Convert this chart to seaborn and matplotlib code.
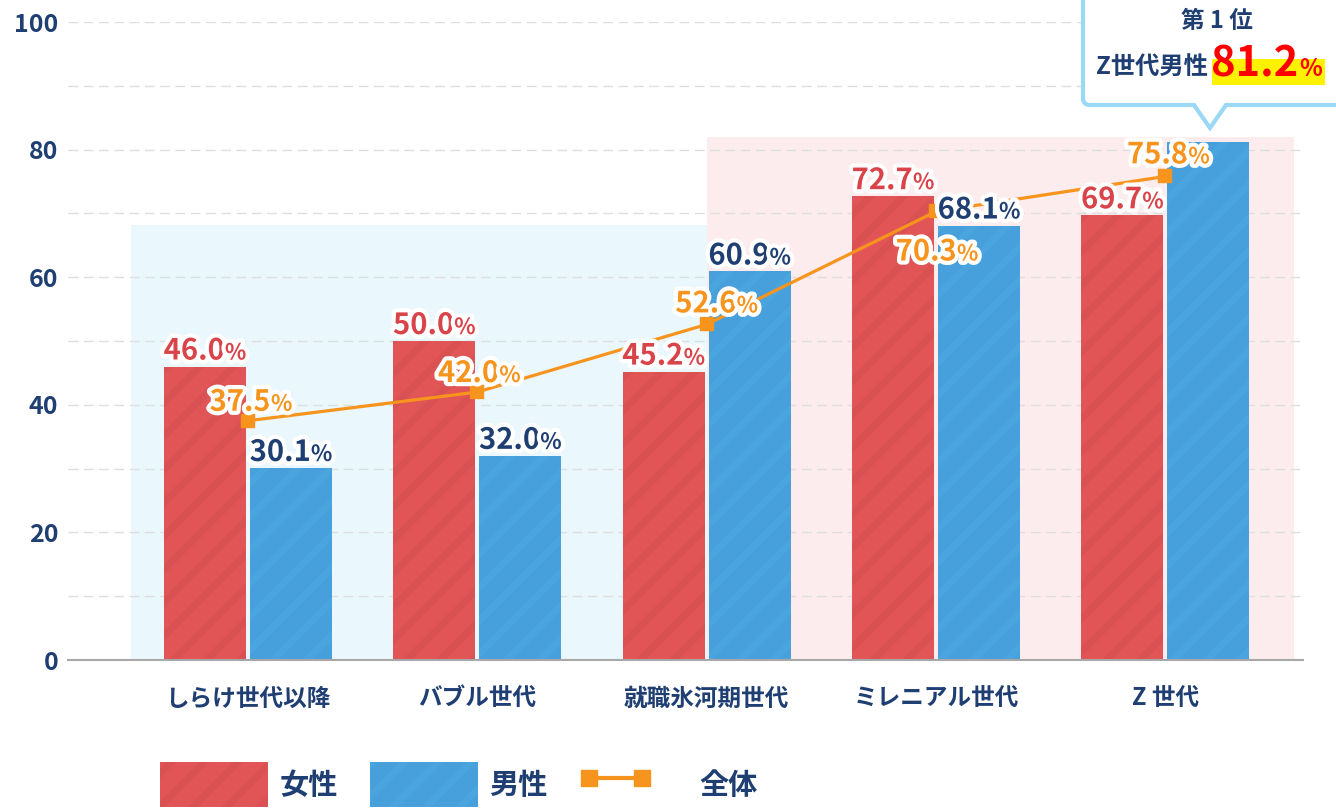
import matplotlib
matplotlib.use("Agg")
import matplotlib.pyplot as plt
import matplotlib.patheffects as pe
import matplotlib.transforms as mtransforms
from matplotlib.patches import Patch, Rectangle, FancyBboxPatch, Polygon
from matplotlib.lines import Line2D
from matplotlib.legend_handler import HandlerLine2D
import pandas as pd
import seaborn as sns

# data
generations = ["しらけ世代以降", "バブル世代", "就職氷河期世代", "ミレニアル世代", "Z 世代"]
female = [46.0, 50.0, 45.2, 72.7, 69.7]
male = [30.1, 32.0, 60.9, 68.1, 81.2]
overall = [37.5, 42.0, 52.6, 70.3, 75.8]
series_names = ["女性", "男性", "全体"]
y_ticks = [0, 20, 40, 60, 80, 100]
top_rank = "第 1 位"
top_group = "Z世代男性"
top_value = 81.2

RED = "#e15557"
RED_STRIPE = "#d95153"
BLUE = "#47a0db"
BLUE_STRIPE = "#4aa5de"
ORANGE = "#f7941d"
NAVY = "#1f3f73"
LABEL_RED = "#d9434a"
FONT = ["Noto Sans CJK JP", "DejaVu Sans"]

W, H = 1336, 809


def main():
    sns.set_style("white")
    plt.rcParams["font.family"] = FONT
    plt.rcParams["hatch.linewidth"] = 5

    fig = plt.figure(figsize=(W / 100, H / 100), dpi=100)
    ax = fig.add_axes([68 / W, 149 / H, (1303 - 68) / W, 638 / H])

    df = pd.DataFrame({
        "世代": generations * 2,
        "性別": [series_names[0]] * len(female) + [series_names[1]] * len(male),
        "割合": female + male,
    })
    sns.barplot(data=df, x="世代", y="割合", hue="性別",
                palette={series_names[0]: RED, series_names[1]: BLUE},
                width=0.75, gap=0.048, saturation=1, legend=False,
                ax=ax, zorder=2)
    for cont, stripe in zip(ax.containers, [RED_STRIPE, BLUE_STRIPE]):
        for bar in cont:
            bar.set_hatch("/")
            bar.set_edgecolor(stripe)
            bar.set_linewidth(0)

    df_all = pd.DataFrame({"世代": generations, "全体": overall})
    sns.pointplot(data=df_all, x="世代", y="全体", color=ORANGE, markers="s",
                  markersize=8.5, linewidth=2.3, errorbar=None, ax=ax)
    for ln in ax.lines:
        ln.set_zorder(4)

    # background panels
    ax.add_patch(Rectangle((-0.51, 0), 2.51, 68.2, facecolor="#eaf7fd",
                           edgecolor="none", zorder=0.2))
    ax.add_patch(Rectangle((2.0, 0), 2.56, 82.0, facecolor="#fdeced",
                           edgecolor="none", zorder=0.2))

    ax.set_xlim(-0.785, 4.6)
    ax.set_ylim(0, 100)
    ax.set_yticks(y_ticks)
    ax.set_yticks([v + 10 for v in y_ticks[:-1]], minor=True)
    ax.set_axisbelow(True)
    ax.grid(False)
    ax.yaxis.grid(True, which="both", linestyle=(0, (7, 4)), color="#dedede", lw=1)
    for s in ["top", "right", "left"]:
        ax.spines[s].set_visible(False)
    ax.spines["bottom"].set_color("#a8a8a8")
    ax.spines["bottom"].set_linewidth(1.5)
    ax.tick_params(axis="y", which="both", length=0, pad=7, labelsize=18, labelcolor=NAVY)
    ax.tick_params(axis="x", length=0, pad=19, labelsize=17, labelcolor=NAVY)
    for t in ax.get_yticklabels() + ax.get_xticklabels():
        t.set_fontweight("bold")
    ax.set_xlabel("")
    ax.set_ylabel("")

    fig.canvas.draw()
    renderer = fig.canvas.get_renderer()
    stroke = [pe.withStroke(linewidth=6, foreground="white")]

    def pct_label(x, y, value, color, dx_px, dy_px, size=21, pct_size=16):
        num = ax.annotate(f"{value:.1f}", (x, y), xytext=(0, 0), textcoords="offset points",
                          ha="right", va="baseline", fontsize=size, fontweight="bold",
                          color=color, zorder=6, path_effects=stroke)
        pct = ax.annotate("%", (x, y), xytext=(0, 0), textcoords="offset points",
                          ha="left", va="baseline", fontsize=pct_size, fontweight="bold",
                          color=color, zorder=6, path_effects=stroke)
        wn = num.get_window_extent(renderer).width
        wp = pct.get_window_extent(renderer).width
        split = dx_px + (wn - wp) / 2
        num.xyann = (split * 0.72, dy_px * 0.72)
        pct.xyann = (split * 0.72, dy_px * 0.72)

    for cont, vals, col in zip(ax.containers, [female, male], [LABEL_RED, NAVY]):
        for bar, v in zip(cont, vals):
            if v == top_value:
                continue  # shown in the callout instead
            pct_label(bar.get_x() + bar.get_width() / 2, v, v, col, 0, 7)

    # label offsets (px) relative to each marker
    line_offsets = [(3, 10), (2, 10), (10, 12), (1, -49), (3, 13)]
    for i, (v, (dx, dy)) in enumerate(zip(overall, line_offsets)):
        pct_label(i, v, v, ORANGE, dx, dy)

    # callout box (pixel coordinates, origin top-left)
    px = mtransforms.Affine2D().scale(1, -1).translate(0, H).scale(1 / W, 1 / H) + fig.transFigure
    box_col = "#9ad8f6"
    fig.add_artist(FancyBboxPatch((1083, -40), 320, 145, boxstyle="round,pad=0,rounding_size=7",
                                  facecolor="white", edgecolor=box_col, lw=3, transform=px,
                                  zorder=10))
    fig.add_artist(Polygon([(1193, 100), (1227, 100), (1210, 126)], closed=True,
                           facecolor="white", edgecolor="none", transform=px, zorder=11))
    fig.add_artist(Line2D([1194, 1210, 1226], [105, 128, 105], color=box_col, lw=3,
                          transform=px, zorder=12, solid_joinstyle="miter"))
    fig.add_artist(Rectangle((1212, 59), 113, 26, facecolor="#fff200", edgecolor="none",
                             transform=px, zorder=12))
    fig.text(1217, 21, top_rank, transform=px, ha="center", va="center", fontsize=17,
             fontweight="bold", color=NAVY, zorder=13)
    fig.text(1208, 67, top_group, transform=px, ha="right", va="center", fontsize=17.5,
             fontweight="bold", color=NAVY, zorder=13)
    fig.text(1298, 76, f"{top_value:.1f}", transform=px, ha="right", va="baseline",
             fontsize=30, fontweight="bold", color="#ff0000", zorder=13)
    fig.text(1299, 76, "%", transform=px, ha="left", va="baseline", fontsize=17,
             fontweight="bold", color="#ff0000", zorder=13)

    # legend
    class ShortLine(HandlerLine2D):
        def create_artists(self, legend, orig_handle, xdescent, ydescent, width, height,
                           fontsize, trans):
            return super().create_artists(legend, orig_handle, xdescent, ydescent,
                                          width * 0.66, height, fontsize, trans)

    handles = [
        Patch(facecolor=RED, edgecolor=RED_STRIPE, hatch="/", lw=0),
        Patch(facecolor=BLUE, edgecolor=BLUE_STRIPE, hatch="/", lw=0),
        Line2D([], [], color=ORANGE, marker="s", markersize=11, lw=3),
    ]
    fig.legend(handles, series_names, loc="upper left", bbox_to_anchor=(160 / W, 1 - 762 / H),
               ncol=3, frameon=False, prop={"family": FONT, "weight": "bold", "size": 21},
               labelcolor=NAVY, handlelength=3.7, handleheight=2.0, handletextpad=0.4,
               columnspacing=1.1, borderpad=0, borderaxespad=0,
               handler_map={Line2D: ShortLine(numpoints=2)})

    fig.savefig("out.png", dpi=100)
    plt.close(fig)


if __name__ == "__main__":
    main()
